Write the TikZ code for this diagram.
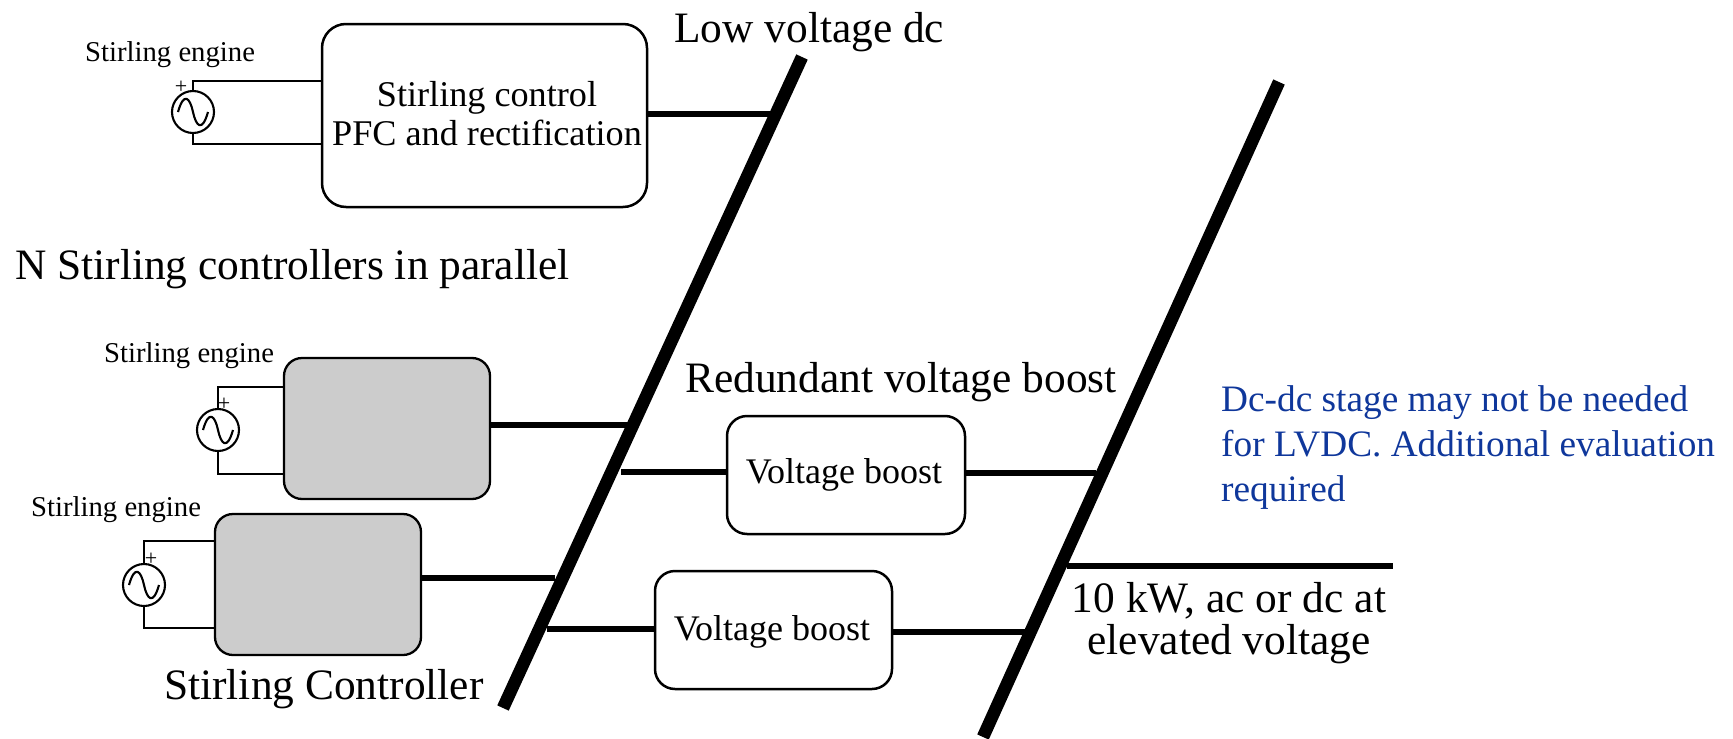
\documentclass[tikz,border=0pt]{standalone}
\usepackage{fontspec}
\setmainfont{Liberation Serif}
\usetikzlibrary{calc}
\definecolor{bluetxt}{RGB}{15,55,155}
\definecolor{greybox}{RGB}{204,204,204}
\tikzset{x=1pt,y=-1pt,
 ctrl/.style={draw,line width=2.5pt,rounded corners=24pt,fill=white,inner sep=0pt,align=center},
 greyctrl/.style={draw,line width=2.3pt,rounded corners=18pt,fill=greybox,inner sep=0pt},
 boost/.style={draw,line width=2.5pt,rounded corners=20pt,fill=white,inner sep=0pt,align=center},
 boosttext/.style={inner sep=0pt,font=\fontsize{36}{40}\selectfont},
 bus/.style={line width=12.6pt},
 link/.style={line width=5.4pt},
 wire/.style={line width=2.1pt},
 src/.style={draw,circle,line width=2.1pt,minimum size=42pt,inner sep=0pt,fill=white},
 big/.style={inner sep=0pt,font=\fontsize{43.4}{42}\selectfont},
 small/.style={inner sep=0pt,font=\fontsize{28.7}{30}\selectfont},
 note/.style={inner sep=0pt,align=left,text=bluetxt,font=\fontsize{37.3}{45}\selectfont},
 plus/.style={inner sep=0pt,font=\fontsize{22}{22}\selectfont}}
\newcommand{\sinewave}[1]{\draw[wire] ($(#1.center)+(-15,0)$) .. controls ($(#1.center)+(-9,-21)$) and ($(#1.center)+(-3,-14)$) .. (#1.center) .. controls ($(#1.center)+(3,14)$) and ($(#1.center)+(9,21)$) .. ($(#1.center)+(15,0)$);}
\begin{document}
\begin{tikzpicture}
\useasboundingbox (0,0) rectangle (1733,739);
% buses
\coordinate (b1t) at (802,57); \coordinate (b1b) at (503,708);
\coordinate (b2t) at (1279,82); \coordinate (b2b) at (983,737);
\draw[bus] (b1t) -- (b1b);
\draw[bus] (b2t) -- (b2b);
% boxes
\node[ctrl,minimum width=325pt,minimum height=183pt] (main) at (484.5,115.5) {};
\node[inner sep=0pt,align=center,font=\fontsize{36.2}{39}\selectfont] (maintext) at (487,114) {Stirling control\\PFC and rectification};
\node[greyctrl,minimum width=206pt,minimum height=141pt] (g1) at (387,428.5) {};
\node[greyctrl,minimum width=206pt,minimum height=141pt] (g2) at (318,584.5) {};
\node[boost,minimum width=238pt,minimum height=118pt] (v1) at (846,475) {};
\node[boost,minimum width=237pt,minimum height=118pt] (v2) at (773.5,630) {};
\node[boosttext] (v1t) at (844,475) {Voltage boost};
\node[boosttext] (v2t) at (772,632) {Voltage boost};
% bus tap coordinates
\coordinate (t1) at (770,114); \coordinate (t2) at (630,425);
\coordinate (t3) at (621,472); \coordinate (t4) at (1096,473);
\coordinate (t5) at (555,578); \coordinate (t6) at (547,629);
\coordinate (t7) at (1028,632); \coordinate (o1) at (1067,566); \coordinate (o2) at (1393,566);
\draw[link] (main.east |- t1) -- (t1);
\draw[link] (g1.east |- t2) -- (t2);
\draw[link] (t3) -- (v1.west |- t3);
\draw[link] (v1.east |- t4) -- (t4);
\draw[link] (g2.east |- t5) -- (t5);
\draw[link] (t6) -- (v2.west |- t6);
\draw[link] (v2.east |- t7) -- (t7);
\draw[link] (o1) -- (o2);
% sources
\node[src] (s1) at (193,112) {};
\node[src] (s2) at (218,430) {};
\node[src] (s3) at (144,585) {};
\sinewave{s1}\sinewave{s2}\sinewave{s3}
\coordinate (w1a) at (193,81); \coordinate (w1b) at (193,144);
\coordinate (w2a) at (218,387); \coordinate (w2b) at (218,474);
\coordinate (w3a) at (144,541); \coordinate (w3b) at (144,628);
\draw[wire] (s1.north) -- (w1a) -- (main.west |- w1a);
\draw[wire] (s1.south) -- (w1b) -- (main.west |- w1b);
\draw[wire] (s2.north) -- (w2a) -- (g1.west |- w2a);
\draw[wire] (s2.south) -- (w2b) -- (g1.west |- w2b);
\draw[wire] (s3.north) -- (w3a) -- (g2.west |- w3a);
\draw[wire] (s3.south) -- (w3b) -- (g2.west |- w3b);
\node[plus] (p1) at (181,87) {+};
\node[plus] (p2) at (224,404) {+};
\node[plus] (p3) at (151,559) {+};
% text
\node[small,anchor=west] (l1) at (85,55) {Stirling engine};
\node[small,anchor=west] (l2) at (104,356) {Stirling engine};
\node[small,anchor=west] (l3) at (31,510) {Stirling engine};
\node[big,anchor=west] (l4) at (674,32) {Low voltage dc};
\node[big,anchor=west] (l5) at (15,269) {N Stirling controllers in parallel};
\node[big,anchor=west] (l6) at (685,382) {Redundant voltage boost};
\node[big,anchor=west] (l7) at (164,689) {Stirling Controller};
\node[big,align=center] (l8) at (1229,623) {10 kW, ac or dc at\\elevated voltage};
\node[note,anchor=north west] (l9) at (1221,385) {Dc-dc stage may not be needed\\for LVDC. Additional evaluation\\required};
\end{tikzpicture}
\end{document}
